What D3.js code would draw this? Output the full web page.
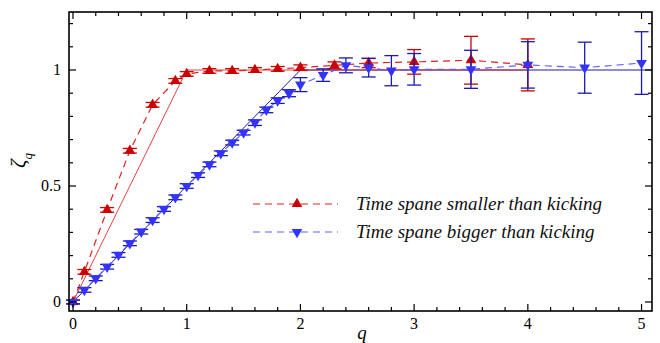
<!DOCTYPE html>
<html><head><meta charset="utf-8">
<script src="https://cdn.jsdelivr.net/npm/d3@7"></script>
<style>body{margin:0;background:#fff}svg{display:block}svg text{font-family:"Liberation Serif","DejaVu Serif",serif}</style>
</head><body>
<script>
const qRed   = [0, 0.1, 0.3, 0.5, 0.7, 0.9, 1.0, 1.2, 1.4, 1.6, 1.8, 2.0, 2.3, 2.6, 3.0, 3.5, 4.0];
const zRed   = [0, 0.13, 0.397, 0.652, 0.85, 0.953, 0.983, 0.996, 0.996, 1.0, 1.005, 1.01, 1.02, 1.03, 1.035, 1.042, 1.022];
const eRed   = [0.008, 0.01, 0.01, 0.01, 0.01, 0.01, 0.01, 0.01, 0.01, 0.01, 0.01, 0.012, 0.015, 0.02, 0.053, 0.103, 0.112];

const qBlue  = [0, 0.1, 0.2, 0.3, 0.4, 0.5, 0.6, 0.7, 0.8, 0.9, 1.0, 1.1, 1.2, 1.3, 1.4, 1.5, 1.6, 1.7, 1.8, 1.9, 2.0, 2.2, 2.4, 2.6, 2.8, 3.0, 3.5, 4.0, 4.5, 5.0];
const zBlue  = [0, 0.052, 0.102, 0.152, 0.203, 0.253, 0.303, 0.353, 0.401, 0.451, 0.5, 0.547, 0.593, 0.641, 0.687, 0.73, 0.773, 0.828, 0.868, 0.9, 0.937, 0.978, 1.02, 1.01, 0.997, 1.003, 1.003, 1.022, 1.01, 1.03];
const eBlue  = [0.008, 0.01, 0.01, 0.01, 0.01, 0.01, 0.01, 0.01, 0.01, 0.01, 0.01, 0.01, 0.01, 0.01, 0.01, 0.01, 0.012, 0.012, 0.012, 0.015, 0.03, 0.027, 0.032, 0.04, 0.065, 0.068, 0.082, 0.1, 0.11, 0.135];

// reference model lines
const qModelRed  = [0, 1, 4];
const zModelRed  = [0, 1, 1];
const qModelBlue = [0, 2, 5.09];
const zModelBlue = [0, 1, 1];

const xMajor = [0, 1, 2, 3, 4, 5];
const yMajor = [0, 0.5, 1];
const yMajorLabels = ["0", "0.5", "1"];
const legendLabels = ["Time spane smaller than kicking", "Time spane bigger than kicking"];

const W = 660, H = 343;
const svg = d3.select("body").append("svg").attr("width", W).attr("height", H);

const x = d3.scaleLinear().domain([-0.0352, 5.092]).range([69, 652]);
const y = d3.scaleLinear().domain([-0.0388, 1.25]).range([311, 12]);

const redMark = "#cc0000", redLine = "#e02020", redBar = "#cc0000";
const blueMark = "#3333ff", blueLine = "#5f5fff", blueSolid = "#1a1aa8", blueBar = "#1a1ab0";

const line = d3.line().x(d => x(d[0])).y(d => y(d[1]));
const zip = (a, b) => a.map((v, i) => [v, b[i]]);

// solid model lines
svg.append("path").attr("d", line(zip(qModelBlue, zModelBlue))).attr("fill", "none").attr("stroke", blueSolid).attr("stroke-width", 1);
svg.append("path").attr("d", line(zip(qModelRed, zModelRed))).attr("fill", "none").attr("stroke", redLine).attr("stroke-width", 1).attr("stroke-opacity", 0.85);

// dashed data lines
svg.append("path").attr("d", line(zip(qBlue, zBlue))).attr("fill", "none").attr("stroke", blueLine).attr("stroke-width", 1.2).attr("stroke-dasharray", "7,5");
svg.append("path").attr("d", line(zip(qRed, zRed))).attr("fill", "none").attr("stroke", redLine).attr("stroke-width", 1.2).attr("stroke-dasharray", "7,5");

function errorBars(qs, zs, es, color) {
  const g = svg.append("g").attr("stroke", color).attr("stroke-width", 1.3).attr("fill", "none");
  qs.forEach((q, i) => {
    const cx = x(q), y1 = y(zs[i] + es[i]), y2 = y(zs[i] - es[i]);
    g.append("line").attr("x1", cx).attr("x2", cx).attr("y1", y1).attr("y2", y2);
    g.append("line").attr("x1", cx - 7).attr("x2", cx + 7).attr("y1", y1).attr("y2", y1);
    g.append("line").attr("x1", cx - 7).attr("x2", cx + 7).attr("y1", y2).attr("y2", y2);
  });
}
const triUp = d3.symbol().type(d3.symbolTriangle).size(50);
function markers(qs, zs, color, down) {
  svg.append("g").selectAll("path").data(qs).join("path")
    .attr("d", triUp())
    .attr("transform", (q, i) => `translate(${x(q)},${y(zs[i])})` + (down ? " rotate(180)" : ""))
    .attr("fill", color);
}
errorBars(qRed, zRed, eRed, redBar);
markers(qRed, zRed, redMark, false);
errorBars(qBlue, zBlue, eBlue, blueBar);
markers(qBlue, zBlue, blueMark, true);

// frame
svg.append("rect").attr("x", 69).attr("y", 12).attr("width", 652 - 69).attr("height", 311 - 12)
  .attr("fill", "none").attr("stroke", "#000").attr("stroke-width", 1.6);

// ticks
const tk = svg.append("g").attr("stroke", "#000").attr("stroke-width", 1.2);
const xMinor = d3.range(0, 5.01, 0.2).filter(v => Math.abs(v - Math.round(v)) > 1e-6);
const yMinor = d3.range(0, 1.21, 0.1).filter(v => Math.abs(v * 2 - Math.round(v * 2)) > 1e-6);
xMajor.forEach(v => {
  tk.append("line").attr("x1", x(v)).attr("x2", x(v)).attr("y1", 311).attr("y2", 304);
  tk.append("line").attr("x1", x(v)).attr("x2", x(v)).attr("y1", 12).attr("y2", 19);
});
xMinor.forEach(v => {
  tk.append("line").attr("x1", x(v)).attr("x2", x(v)).attr("y1", 311).attr("y2", 307);
  tk.append("line").attr("x1", x(v)).attr("x2", x(v)).attr("y1", 12).attr("y2", 16);
});
yMajor.forEach(v => {
  tk.append("line").attr("x1", 69).attr("x2", 76).attr("y1", y(v)).attr("y2", y(v));
  tk.append("line").attr("x1", 652).attr("x2", 645).attr("y1", y(v)).attr("y2", y(v));
});
yMinor.forEach(v => {
  tk.append("line").attr("x1", 69).attr("x2", 73).attr("y1", y(v)).attr("y2", y(v));
  tk.append("line").attr("x1", 652).attr("x2", 648).attr("y1", y(v)).attr("y2", y(v));
});

svg.append("g").selectAll("text").data(xMajor).join("text")
  .attr("x", d => x(d)).attr("y", 329).attr("text-anchor", "middle")
  .attr("font-size", 16).text(d => d);
svg.append("g").selectAll("text").data(yMajor).join("text")
  .attr("x", 61).attr("y", d => y(d) + 5.5).attr("text-anchor", "end")
  .attr("font-size", 16).text((d, i) => yMajorLabels[i]);

// axis titles
svg.append("text").attr("x", 362).attr("y", 339).attr("text-anchor", "middle")
  .attr("font-style", "italic").attr("font-size", 19).text("q");
const yl = svg.append("text").attr("transform", "translate(25,168) rotate(-90)")
  .attr("font-style", "italic").attr("font-size", 21);
yl.append("tspan").text("ζ");
yl.append("tspan").attr("dy", 7).attr("font-size", 13).text("q");

// legend
const leg = [{y: 204, line: redLine, mark: redMark, down: false}, {y: 232, line: blueLine, mark: blueMark, down: true}];
leg.forEach((d, i) => {
  svg.append("line").attr("x1", 253).attr("x2", 338).attr("y1", d.y).attr("y2", d.y)
    .attr("stroke", d.line).attr("stroke-width", 1.2).attr("stroke-dasharray", "7,5");
  svg.append("path").attr("d", triUp()).attr("fill", d.mark)
    .attr("transform", `translate(297,${d.y})` + (d.down ? " rotate(180)" : ""));
  svg.append("text").attr("x", 356).attr("y", d.y + 6)
    .attr("font-style", "italic").attr("font-size", 19).attr("fill", "#111").text(legendLabels[i]);
});
</script>
</body></html>
